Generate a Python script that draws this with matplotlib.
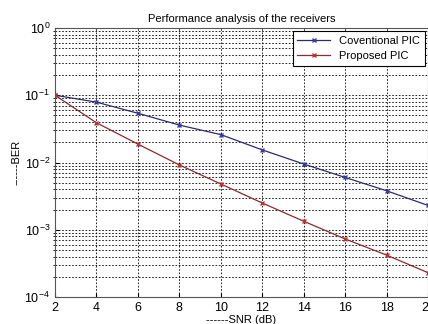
import matplotlib
matplotlib.use("Agg")
import matplotlib.pyplot as plt
from matplotlib.ticker import LogLocator, NullFormatter

plt.rcParams['font.family'] = ['Liberation Sans', 'DejaVu Sans']

# data
snr = [2, 4, 6, 8, 10, 12, 14, 16, 18, 20]
ber_conv = [0.1, 0.079, 0.054, 0.036, 0.026, 0.0154, 0.0095, 0.006, 0.0038, 0.0023]
ber_prop = [0.1, 0.039, 0.0188, 0.0092, 0.0048, 0.0025, 0.00134, 0.00073, 0.00042, 0.00023]
xticks = [2, 4, 6, 8, 10, 12, 14, 16, 18, 20]

fig = plt.figure(figsize=(4.28, 3.24), dpi=100)
ax = fig.add_axes([0.1285, 0.0833, 0.8715, 0.8303])

ax.semilogy(snr, ber_conv, color='#2b2b6e', lw=0.9, marker='x', ms=3,
            mec='#3a3aa0', label='Coventional PIC')
ax.semilogy(snr, ber_prop, color='#8a2a2a', lw=0.9, marker='x', ms=3,
            mec='#c03030', label='Proposed PIC')

ax.set_xlim(2, 20)
ax.set_ylim(1e-4, 1)
ax.set_xticks(xticks)
ax.yaxis.set_major_locator(LogLocator(base=10, numticks=10))
ax.yaxis.set_minor_locator(LogLocator(base=10, subs=range(2, 10), numticks=10))
ax.yaxis.set_minor_formatter(NullFormatter())

ax.grid(True, which='major', color='black', linestyle=(0, (2, 2)), lw=0.6)
ax.grid(True, which='minor', axis='y', color='black', linestyle=(0, (2, 2)), lw=0.6)

ax.tick_params(labelsize=9, direction='in', length=3)
ax.tick_params(which='minor', length=1.5)
for s in ax.spines.values():
    s.set_color('#555555')

ax.set_title('Performance analysis of the receivers', fontsize=8, pad=4)
ax.set_xlabel('------SNR (dB)', fontsize=8, labelpad=1)
ax.set_ylabel('------BER', fontsize=8, labelpad=2)

leg = ax.legend(loc='upper right', fontsize=8, fancybox=False, framealpha=1,
                edgecolor='black', borderaxespad=0.3, handlelength=3)
leg.get_frame().set_linewidth(0.8)

fig.savefig('out.png', dpi=100)
